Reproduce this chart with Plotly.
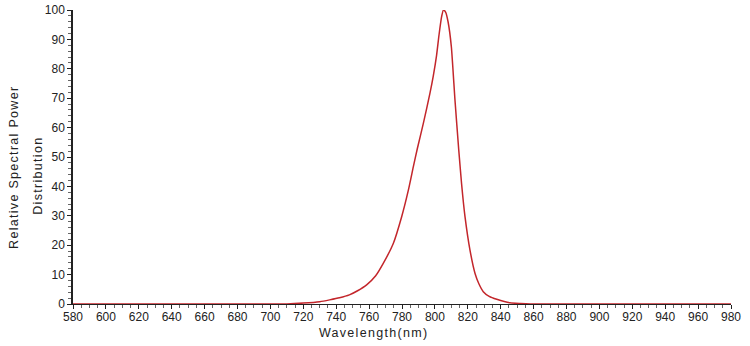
import plotly.graph_objects as go

wavelength = [580, 640, 700, 710, 720, 730, 736, 742, 748, 753, 758.5, 764, 768.6, 774.7,
              779.8, 783.9, 786.9, 789.3, 793, 797, 799, 801, 802.5, 804, 805.2, 806.5, 808,
              810, 812.2, 814.5, 816.2, 818.3, 821.3, 824.4, 826.8, 829.4, 833, 837.6, 845.6,
              852, 858, 900, 940, 980]
power = [0, 0, 0, 0, 0.3, 0.8, 1.4, 2.1, 3.1, 4.5, 6.5, 9.6, 13.8, 20.6,
         29.7, 38.8, 46.7, 52.8, 61.5, 71.7, 77.5, 84.5, 91.5, 97.5, 100, 99.3, 96,
         87.5, 69.4, 52.4, 41, 29.7, 18.4, 10.4, 6.8, 4.2, 2.6, 1.6, 0.4,
         0.15, 0, 0, 0, 0]

x_ticks = list(range(580, 981, 20))
y_ticks = list(range(0, 101, 10))
y_title_lines = ["Relative Spectral Power", "Distribution"]
x_title = "Wavelength(nm)"

fig = go.Figure()
fig.add_trace(go.Scatter(x=wavelength, y=power, mode="lines",
                         line=dict(color="#c3262b", width=1.5, shape="spline", smoothing=0.5),
                         showlegend=False, hoverinfo="skip"))

tickfont = dict(family="Liberation Sans, Arial, sans-serif", size=12, color="#222")
titlefont = dict(family="Liberation Sans, Arial, sans-serif", size=12.5, color="#222")

fig.update_layout(
    width=750, height=346,
    margin=dict(l=73, r=19, t=10, b=42),
    paper_bgcolor="white", plot_bgcolor="white",
    font=tickfont,
    xaxis=dict(range=[580, 980], tickvals=x_ticks, ticktext=[str(v) for v in x_ticks],
               showgrid=False, zeroline=False, showline=True, linecolor="#222", linewidth=1,
               ticks="outside", ticklen=4, tickcolor="#222", automargin=False,
               ticklabelstandoff=-2,
               minor=dict(dtick=5, ticks="outside", ticklen=3, tickcolor="#666"),
               tickfont=tickfont),
    yaxis=dict(range=[0, 100], tickvals=y_ticks, ticktext=[str(v) for v in y_ticks],
               showgrid=False, zeroline=False, showline=True, linecolor="#222", linewidth=1.5,
               ticks="outside", ticklen=4, tickcolor="#222", automargin=False,
               minor=dict(dtick=2, ticks="outside", ticklen=3, tickcolor="#666"),
               tickfont=tickfont),
    annotations=[
        dict(text=y_title_lines[0], xref="paper", yref="paper", x=-0.0897, y=0.466,
             xanchor="center", yanchor="middle", textangle=-90, showarrow=False, font=titlefont),
        dict(text=y_title_lines[1], xref="paper", yref="paper", x=-0.0532, y=0.439,
             xanchor="center", yanchor="middle", textangle=-90, showarrow=False, font=titlefont),
        dict(text=x_title, xref="paper", yref="paper", x=0.457, y=-0.1,
             xanchor="center", yanchor="middle", showarrow=False, font=titlefont),
    ],
)

post = """
var gd = document.getElementById('{plot_id}');
function spaceText(){
  gd.querySelectorAll('.annotation-text').forEach(function(t){
    t.style.letterSpacing = '1.3px';
  });
}
spaceText();
gd.on && gd.on('plotly_afterplot', spaceText);
"""
fig.write_html("out.html", post_script=post)
